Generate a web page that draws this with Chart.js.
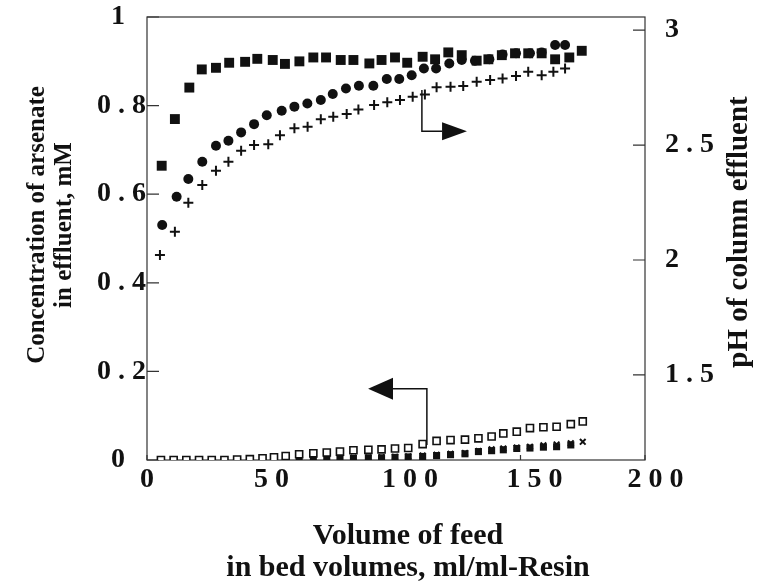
<!DOCTYPE html>
<html>
<head>
<meta charset="utf-8">
<script src="https://cdn.jsdelivr.net/npm/chart.js@4.4.0/dist/chart.umd.min.js"></script>
<style>
  html, body { margin: 0; padding: 0; background: #fff; }
  #wrap { width: 757px; height: 581px; }
</style>
</head>
<body>
<div id="wrap"><canvas id="chart" width="757" height="581"></canvas></div>
<script>
// axis ticks
const volumeTicks = [0, 50, 100, 150, 200];
const concTicks = [0, 0.2, 0.4, 0.6, 0.8, 1];
const phTicks = [1.5, 2, 2.5, 3];

// pH of column effluent (right axis)
const squareVol = [5.9, 11.2, 17.0, 22.0, 27.7, 33.0, 39.4, 44.3, 50.5, 55.4, 61.2, 66.8, 71.9, 77.8, 82.9, 89.3,
                   94.2, 99.6, 104.5, 110.7, 115.7, 121.0, 126.4, 132.4, 137.1, 142.5, 147.8, 153.1, 158.5, 163.9, 169.6, 174.6];
const squarePh = [2.41, 2.613, 2.75, 2.829, 2.836, 2.858, 2.862, 2.875, 2.87, 2.853, 2.864, 2.881, 2.881, 2.87, 2.87, 2.855,
                  2.87, 2.881, 2.858, 2.884, 2.873, 2.903, 2.891, 2.867, 2.873, 2.891, 2.899, 2.899, 2.899, 2.873, 2.881, 2.91];

const circleVol = [6.1, 11.9, 16.6, 22.2, 27.7, 32.7, 37.8, 43.0, 48.1, 54.1, 59.2, 64.4, 69.8, 74.6, 79.9, 85.1,
                   90.9, 96.3, 101.3, 106.3, 111.2, 116.1, 121.4, 126.4, 131.7, 137.5, 142.8, 148.2, 153.8, 158.5, 163.9, 167.9];
const circlePh = [2.152, 2.275, 2.352, 2.427, 2.497, 2.519, 2.555, 2.591, 2.63, 2.649, 2.667, 2.681, 2.696, 2.722, 2.746, 2.758,
                  2.758, 2.787, 2.787, 2.804, 2.833, 2.833, 2.855, 2.87, 2.867, 2.873, 2.894, 2.899, 2.899, 2.903, 2.935, 2.935];

const plusVol = [5.2, 11.2, 16.6, 22.2, 27.7, 32.7, 37.8, 43.0, 48.7, 53.4, 59.2, 64.5, 69.8, 74.8, 80.2, 84.9,
                 91.2, 96.5, 101.6, 106.7, 111.6, 116.3, 121.9, 127.0, 132.4, 137.8, 142.8, 148.2, 153.1, 158.5, 163.2, 167.9];
const plusPh = [2.022, 2.123, 2.249, 2.326, 2.388, 2.427, 2.475, 2.5, 2.504, 2.543, 2.573, 2.58, 2.612, 2.623, 2.635, 2.655,
                2.674, 2.686, 2.696, 2.71, 2.72, 2.751, 2.754, 2.757, 2.775, 2.783, 2.79, 2.8, 2.819, 2.804, 2.819, 2.833];

// arsenate in effluent, mM (left axis)
const lowVol = [5.6, 10.7, 15.8, 20.9, 26.0, 31.1, 36.2, 41.3, 46.4, 51.0, 55.7, 61.1, 66.8, 72.2, 77.5, 82.9, 88.9,
                94.2, 99.6, 104.9, 110.7, 116.3, 121.9, 127.7, 133.1, 138.4, 143.1, 148.5, 153.8, 159.2, 164.5, 170.2, 175.0];
const openSquareConc = [0, 0, 0, 0, 0, 0, 0.001, 0.002, 0.004, 0.006, 0.009, 0.013, 0.015, 0.017, 0.019, 0.022, 0.023,
                        0.024, 0.026, 0.027, 0.036, 0.043, 0.045, 0.046, 0.049, 0.053, 0.060, 0.064, 0.072, 0.074, 0.075, 0.081, 0.087];
const smallSquareConc = [0, 0, 0, 0, 0, 0, 0, 0, 0, 0.001, 0.002, 0.002, 0.003, 0.003, 0.004, 0.004, 0.005,
                         0.005, 0.006, 0.007, 0.008, 0.010, 0.012, 0.014, 0.019, 0.021, 0.023, 0.026, 0.027, 0.029, 0.030, 0.034, null];
const crossConc = [null, null, null, null, null, null, 0, 0, 0.001, 0.001, 0.002, 0.002, 0.003, 0.003, 0.004, 0.005, 0.005,
                   0.006, 0.007, 0.008, 0.010, 0.012, 0.014, 0.016, 0.020, 0.024, 0.026, 0.028, 0.030, 0.033, 0.035, 0.038, 0.041];

// elbow arrows pointing to the axis each group belongs to
const arrows = [
    { axis: 'y2', x: 110.4, yStart: 2.74, yElbow: 2.56, xBase: 118.5, xTip: 128.5, half: 9 },
    { axis: 'y', x: 112.4, yStart: 0.034, yElbow: 0.161, xBase: 98.8, xTip: 88.8, half: 11 }
];

const FONT = "'Liberation Serif', 'Times New Roman', serif";
const INK = '#111';

function pts(xs, ys) {
    return xs.map((x, i) => ({ x: x, y: ys[i] }));
}

// tick labels are typeset with spaced digits, as in the scan
function spaced(v) {
    const s = Number.isInteger(v) ? String(v) : v.toFixed(1);
    return s.split('').join(' ');
}

function drawText(ctx, lines, x, y, size, lineGap, rotate) {
    ctx.save();
    ctx.fillStyle = INK;
    ctx.textAlign = 'center';
    ctx.textBaseline = 'middle';
    ctx.font = 'bold ' + size + 'px ' + FONT;
    ctx.translate(x, y);
    if (rotate) ctx.rotate(-Math.PI / 2);
    lines.forEach((t, i) => ctx.fillText(t, 0, i * lineGap));
    ctx.restore();
}

const framePlugin = {
    id: 'frame',
    beforeDatasetsDraw(chart) {
        const { ctx, chartArea: a, scales } = chart;
        ctx.save();
        ctx.strokeStyle = '#333';
        ctx.lineWidth = 1.2;
        ctx.strokeRect(a.left, a.top, a.right - a.left, a.bottom - a.top);
        ctx.beginPath();
        concTicks.forEach(v => {
            const y = scales.y.getPixelForValue(v);
            ctx.moveTo(a.left, y); ctx.lineTo(a.left + 12, y);
        });
        phTicks.forEach(v => {
            const y = scales.y2.getPixelForValue(v);
            ctx.moveTo(a.right, y); ctx.lineTo(a.right - 12, y);
        });
        volumeTicks.forEach(v => {
            const x = scales.x.getPixelForValue(v);
            ctx.moveTo(x, a.bottom); ctx.lineTo(x, a.bottom - 5);
        });
        ctx.stroke();
        ctx.restore();
    },
    afterDatasetsDraw(chart) {
        const { ctx, scales } = chart;
        ctx.save();
        ctx.strokeStyle = INK;
        ctx.fillStyle = INK;
        ctx.lineWidth = 1.5;
        arrows.forEach(ar => {
            const ys = scales[ar.axis];
            const x = scales.x.getPixelForValue(ar.x);
            const y0 = ys.getPixelForValue(ar.yStart);
            const y1 = ys.getPixelForValue(ar.yElbow);
            const xb = scales.x.getPixelForValue(ar.xBase);
            const xt = scales.x.getPixelForValue(ar.xTip);
            ctx.beginPath();
            ctx.moveTo(x, y0); ctx.lineTo(x, y1); ctx.lineTo(xb, y1);
            ctx.stroke();
            ctx.beginPath();
            ctx.moveTo(xb, y1 - ar.half); ctx.lineTo(xt, y1); ctx.lineTo(xb, y1 + ar.half);
            ctx.closePath();
            ctx.fill();
        });
        ctx.restore();

        // axis titles (vertical ones read bottom-to-top)
        drawText(ctx, ['Concentration of arsenate', 'in effluent, mM'], 38, 225, 25, 27, true);
        drawText(ctx, ['pH of column effluent'], 740, 232, 29, 0, true);
        drawText(ctx, ['Volume of feed', 'in bed volumes, ml/ml-Resin'], 408, 536, 30, 32, false);
    }
};

const tickFont = { family: FONT, size: 28, weight: 'bold' };

function noEdgePadding(s) {
    s.paddingTop = 0; s.paddingBottom = 0; s.paddingLeft = 0; s.paddingRight = 0;
}

new Chart(document.getElementById('chart'), {
    type: 'scatter',
    data: {
        datasets: [
            { label: 'pH ■', data: pts(squareVol, squarePh), yAxisID: 'y2', pointStyle: 'rect', pointRadius: 7,
              backgroundColor: INK, borderColor: INK, borderWidth: 0 },
            { label: 'pH ●', data: pts(circleVol, circlePh), yAxisID: 'y2', pointStyle: 'circle', pointRadius: 5,
              backgroundColor: INK, borderColor: INK, borderWidth: 0 },
            { label: 'pH +', data: pts(plusVol, plusPh), yAxisID: 'y2', pointStyle: 'cross', pointRadius: 5,
              borderColor: INK, borderWidth: 2 },
            { label: 'As □', data: pts(lowVol, openSquareConc), yAxisID: 'y', pointStyle: 'rect', pointRadius: 5,
              backgroundColor: '#fff', borderColor: INK, borderWidth: 1.6 },
            { label: 'As ■', data: pts(lowVol, smallSquareConc), yAxisID: 'y', pointStyle: 'rect', pointRadius: 5,
              backgroundColor: INK, borderColor: INK, borderWidth: 0 },
            { label: 'As ×', data: pts(lowVol, crossConc), yAxisID: 'y', pointStyle: 'crossRot', pointRadius: 4,
              borderColor: INK, borderWidth: 2 }
        ]
    },
    options: {
        responsive: false,
        animation: false,
        layout: { padding: { top: 17, left: 0, right: 0, bottom: 0 } },
        plugins: { legend: { display: false }, tooltip: { enabled: false } },
        scales: {
            x: {
                type: 'linear', min: 0, max: 200,
                grid: { display: false, drawTicks: false },
                border: { display: false },
                afterBuildTicks: s => { s.ticks = volumeTicks.map(v => ({ value: v })); },
                afterFit: s => { s.height = 121; noEdgePadding(s); },
                ticks: {
                    color: INK, font: tickFont, padding: 3, autoSkip: false, maxRotation: 0,
                    // the scan sets the wider labels a little right of their ticks
                    callback: v => (v >= 200 ? '\u2002 ' : v >= 100 ? '\u2002\u2002' : '') + spaced(v)
                }
            },
            y: {
                position: 'left', min: 0, max: 1,
                grid: { display: false, drawTicks: false },
                border: { display: false },
                afterBuildTicks: s => { s.ticks = concTicks.map(v => ({ value: v })); },
                afterFit: s => { s.width = 147; noEdgePadding(s); },
                ticks: { color: INK, font: tickFont, padding: 1,
                         callback: v => spaced(v) + (Number.isInteger(v) ? '   ' : '') }
            },
            y2: {
                position: 'right', min: 1.13, max: 3.057,
                grid: { display: false, drawTicks: false },
                border: { display: false },
                afterBuildTicks: s => { s.ticks = phTicks.map(v => ({ value: v })); },
                afterFit: s => { s.width = 112; noEdgePadding(s); },
                ticks: { color: INK, font: tickFont, padding: 20, callback: v => spaced(v) }
            }
        }
    },
    plugins: [framePlugin]
});
</script>
</body>
</html>
